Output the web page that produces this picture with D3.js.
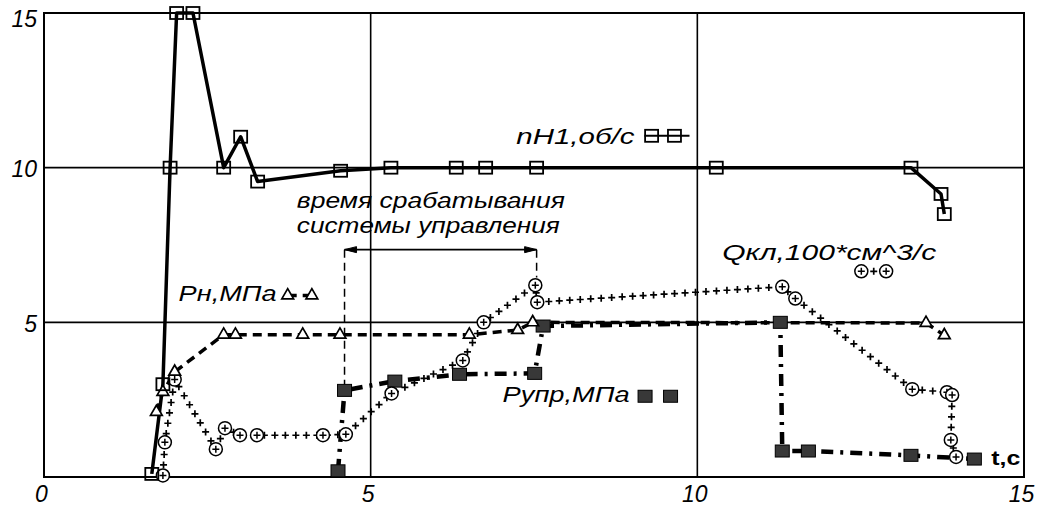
<!DOCTYPE html>
<html>
<head>
<meta charset="utf-8">
<script src="https://cdn.jsdelivr.net/npm/d3@7"></script>
<style>
  html, body { margin: 0; padding: 0; background: #fff; }
  svg text { font-family: "Liberation Sans", Arial, sans-serif; font-style: italic; fill: #000; }
</style>
</head>
<body>
<svg id="chart" width="1042" height="508"></svg>
<script>
// values, t in seconds
const xTicks = [0, 5, 10, 15];
const yTicks = [5, 10, 15];
const gridX = [5, 10];
const gridY = [5, 10];

const nH1T = [1.65, 1.82, 1.93, 2.03, 2.28, 2.75, 3.01, 3.27, 4.54, 5.31, 6.31, 6.76, 7.54, 10.29, 13.27, 13.73, 13.78];
const nH1V = [0.1, 3.0, 10, 15, 15, 10, 11, 9.55, 9.9, 10, 10, 10, 10, 10, 10, 9.15, 8.5];

const pnT = [1.72, 1.82, 2.0, 2.75, 2.93, 3.96, 4.53, 6.51, 7.25, 7.48, 13.5, 13.78];
const pnV = [2.1, 2.75, 3.4, 4.6, 4.6, 4.6, 4.6, 4.6, 4.75, 5.0, 4.98, 4.58];

const pupT = [4.5, 4.6, 5.37, 6.36, 7.51, 7.64, 11.27, 11.3, 11.7, 13.27, 14.24];
const pupV = [0.2, 2.8, 3.1, 3.32, 3.35, 4.88, 5.0, 0.84, 0.84, 0.7, 0.58];

const qT = [1.82, 1.85, 2.0, 2.63, 2.77, 3.0, 3.26, 4.27, 4.62, 5.32, 6.41, 6.73, 7.52, 7.55, 11.3, 11.5, 13.29, 13.82, 13.9, 13.88, 13.96];
const qV = [0.05, 1.12, 3.15, 0.9, 1.58, 1.35, 1.35, 1.35, 1.38, 2.7, 3.77, 5.0, 6.2, 5.65, 6.15, 5.77, 2.84, 2.74, 2.65, 1.2, 0.65];

// labels: [text, t, value, length px]
const labels = [
  ["nH1,об/с", 7.23, 10.77, 118],
  ["время срабатывания", 3.87, 8.68, 268],
  ["системы управления", 3.87, 7.9, 263],
  ["Рн,МПа", 2.06, 5.68, 98],
  ["Qкл,100*см^3/с", 10.38, 7.03, 214],
  ["Рупр,МПа", 7.02, 2.42, 127]
];
const bracketT = [4.6, 7.54];
const bracketV = 7.35;
const bracketFoot = [3.0, 6.45];

const svg = d3.select("#chart");
const x = d3.scaleLinear().domain([0, 15]).range([44, 1024]);
const y = d3.scaleLinear().domain([0, 15]).range([477, 13]);

// grid
svg.append("g").selectAll("line").data(gridX).join("line")
  .attr("x1", d => x(d)).attr("x2", d => x(d))
  .attr("y1", y(0)).attr("y2", y(15))
  .attr("stroke", "#000").attr("stroke-width", 1.6);
svg.append("g").selectAll("line").data(gridY).join("line")
  .attr("x1", x(0)).attr("x2", x(15))
  .attr("y1", d => y(d)).attr("y2", d => y(d))
  .attr("stroke", "#000").attr("stroke-width", 1.6);

svg.append("rect")
  .attr("x", x(0)).attr("y", y(15))
  .attr("width", x(15) - x(0)).attr("height", y(0) - y(15))
  .attr("fill", "none").attr("stroke", "#000").attr("stroke-width", 2);

// axes
const xAxis = svg.append("g")
  .attr("transform", `translate(0,${y(0)})`)
  .call(d3.axisBottom(x).tickValues(xTicks).tickSize(0).tickPadding(9));
xAxis.select(".domain").remove();
xAxis.attr("font-family", null).attr("font-size", null);
xAxis.selectAll("text")
  .attr("x", -3)
  .style("font-size", "23px");

const yAxis = svg.append("g")
  .attr("transform", `translate(${x(0)},0)`)
  .call(d3.axisLeft(y).tickValues(yTicks).tickSize(0).tickPadding(7));
yAxis.select(".domain").remove();
yAxis.attr("font-family", null).attr("font-size", null);
yAxis.selectAll("text")
  .attr("dy", d => d === 15 ? "0.6em" : "0.4em")
  .style("font-size", "23px");

const line = d3.line().x(d => x(d[0])).y(d => y(d[1]));
const nH1 = d3.zip(nH1T, nH1V);
const pn = d3.zip(pnT, pnV);
const pup = d3.zip(pupT, pupV);
const q = d3.zip(qT, qV);

// Qкл: line made of "+" glyphs
const qPath = svg.append("path")
  .datum(q).attr("d", line)
  .attr("fill", "none").attr("stroke", "none");
const qNode = qPath.node();
const qLen = qNode.getTotalLength();
const plusG = svg.append("g").attr("stroke", "#000").attr("stroke-width", 1.7);
for (let l = 0; l <= qLen; l += 10.5) {
  const p = qNode.getPointAtLength(l);
  plusG.append("path").attr("d", `M${p.x - 3.5},${p.y}h7M${p.x},${p.y - 3.5}v7`);
}

// Pн dashed
svg.append("path").datum(pn).attr("d", line)
  .attr("fill", "none").attr("stroke", "#000")
  .attr("stroke-width", 3.5).attr("stroke-dasharray", "9 6");

// Pупр dash-dot
svg.append("path").datum(pup).attr("d", line)
  .attr("fill", "none").attr("stroke", "#000")
  .attr("stroke-width", 4.5).attr("stroke-dasharray", "12 7 3 7");

// nH1 solid
svg.append("path").datum(nH1).attr("d", line)
  .attr("fill", "none").attr("stroke", "#000")
  .attr("stroke-width", 3.5).attr("stroke-linejoin", "round");

// marker helpers
function hollowSquare(g, px, py) {
  g.append("rect").attr("x", px - 6.5).attr("y", py - 6).attr("width", 13).attr("height", 12)
    .attr("fill", "none").attr("stroke", "#000").attr("stroke-width", 1.8);
}
function triangle(g, px, py) {
  g.append("path").attr("d", d3.symbol(d3.symbolTriangle, 60)())
    .attr("transform", `translate(${px},${py})`)
    .attr("fill", "#fff").attr("stroke", "#000").attr("stroke-width", 1.7);
}
function filledSquare(g, px, py) {
  g.append("rect").attr("x", px - 7).attr("y", py - 6).attr("width", 14).attr("height", 12)
    .attr("fill", "#383838").attr("stroke", "#000").attr("stroke-width", 1);
}
function circlePlus(g, px, py) {
  g.append("circle").attr("cx", px).attr("cy", py).attr("r", 6.5)
    .attr("fill", "#fff").attr("stroke", "#000").attr("stroke-width", 1.5);
  g.append("path").attr("d", `M${px - 3.5},${py}h7M${px},${py - 3.5}v7`)
    .attr("stroke", "#000").attr("stroke-width", 1.5);
}

const mk = svg.append("g");
pup.forEach(d => filledSquare(mk, x(d[0]), y(d[1])));
q.forEach(d => circlePlus(mk, x(d[0]), y(d[1])));
pn.forEach(d => triangle(mk, x(d[0]), y(d[1])));
nH1.forEach(d => hollowSquare(mk, x(d[0]), y(d[1])));

// dimension bracket
const br = svg.append("g").attr("stroke", "#000");
br.append("line")
  .attr("x1", x(bracketT[0])).attr("x2", x(bracketT[1]))
  .attr("y1", y(bracketV)).attr("y2", y(bracketV))
  .attr("stroke-width", 1.6);
bracketT.forEach((t, i) => {
  const px = x(t), py = y(bracketV);
  br.append("line")
    .attr("x1", px).attr("x2", px)
    .attr("y1", py).attr("y2", y(bracketFoot[i]))
    .attr("stroke-width", 1.5).attr("stroke-dasharray", "8 5");
  const dir = i === 0 ? 1 : -1;
  br.append("path")
    .attr("d", `M${px},${py}L${px + dir * 12},${py - 3}L${px + dir * 12},${py + 3}Z`)
    .attr("fill", "#000").attr("stroke-width", 1);
});

// labels
svg.append("g").selectAll("text").data(labels).join("text")
  .attr("x", d => x(d[1])).attr("y", d => y(d[2]))
  .attr("textLength", d => d[3]).attr("lengthAdjust", "spacingAndGlyphs")
  .style("font-size", "22px")
  .text(d => d[0]);

svg.append("text")
  .attr("x", x(14.5)).attr("y", y(0.39))
  .attr("textLength", 29).attr("lengthAdjust", "spacingAndGlyphs")
  .style("font-style", "normal").style("font-weight", "bold").style("font-size", "20px")
  .text("t,c");

// legend samples next to labels
const lg = svg.append("g");
function legendLine(t0, t1, v, w, dash) {
  lg.append("line").attr("x1", x(t0)).attr("x2", x(t1)).attr("y1", y(v)).attr("y2", y(v))
    .attr("stroke", "#000").attr("stroke-width", w).attr("stroke-dasharray", dash);
}
legendLine(9.19, 9.88, 11.03, 2, "none");
hollowSquare(lg, x(9.3), y(11.03));
hollowSquare(lg, x(9.65), y(11.03));

legendLine(3.73, 4.1, 5.87, 3.5, "9 6");
triangle(lg, x(3.73), y(5.87));
triangle(lg, x(4.1), y(5.87));

lg.append("path").attr("d", `M${x(12.7) - 3.5},${y(6.65)}h7M${x(12.7)},${y(6.65) - 3.5}v7`)
  .attr("stroke", "#000").attr("stroke-width", 1.7);
circlePlus(lg, x(12.51), y(6.65));
circlePlus(lg, x(12.89), y(6.65));

filledSquare(lg, x(9.2), y(2.61));
filledSquare(lg, x(9.59), y(2.61));
</script>
</body>
</html>
